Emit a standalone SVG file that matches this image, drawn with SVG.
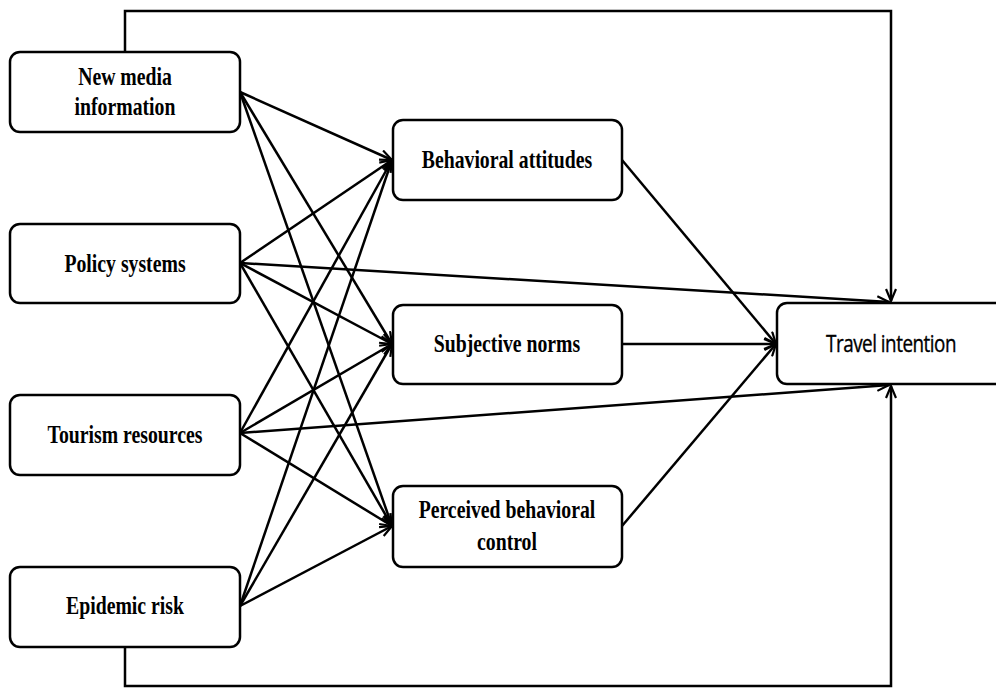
<svg xmlns="http://www.w3.org/2000/svg" width="996" height="688" viewBox="0 0 996 688">
<style>
.box{fill:#fff;stroke:#000;stroke-width:2.5}
.t{font-family:"Liberation Serif","Times New Roman",serif;font-weight:bold;font-size:25px;text-anchor:middle;fill:#000}
.ts{font-family:"Open Sans","Liberation Sans",sans-serif;font-size:23px;text-anchor:middle;fill:#000;stroke:#000;stroke-width:0.35;letter-spacing:-0.6px}
.e{fill:none;stroke:#000;stroke-width:2.5}
</style>
<defs>
<marker id="a" viewBox="0 0 14 12" refX="13" refY="6" markerWidth="14" markerHeight="12" markerUnits="userSpaceOnUse" orient="auto">
<path d="M1,1 L13,6 L1,11" fill="none" stroke="#000" stroke-width="2.2"/>
</marker>
</defs>
<g id="connectors">
<path class="e" d="M125,52 V11 H891 V301" marker-end="url(#a)"/>
<path class="e" d="M125,647 V686 H891 V386" marker-end="url(#a)"/>
<path class="e" d="M240,92 L392,160" marker-end="url(#a)"/>
<path class="e" d="M240,92 L392,344" marker-end="url(#a)"/>
<path class="e" d="M240,92 L392,526" marker-end="url(#a)"/>
<path class="e" d="M240,263 L392,160" marker-end="url(#a)"/>
<path class="e" d="M240,263 L392,344" marker-end="url(#a)"/>
<path class="e" d="M240,263 L392,526" marker-end="url(#a)"/>
<path class="e" d="M240,263 L889,302" marker-end="url(#a)"/>
<path class="e" d="M240,433 L392,160" marker-end="url(#a)"/>
<path class="e" d="M240,433 L392,344" marker-end="url(#a)"/>
<path class="e" d="M240,433 L392,526" marker-end="url(#a)"/>
<path class="e" d="M240,433 L889,385" marker-end="url(#a)"/>
<path class="e" d="M240,606 L392,160" marker-end="url(#a)"/>
<path class="e" d="M240,606 L392,344" marker-end="url(#a)"/>
<path class="e" d="M240,606 L392,526" marker-end="url(#a)"/>
<path class="e" d="M622,160 L776,344" marker-end="url(#a)"/>
<path class="e" d="M622,344 L776,344" marker-end="url(#a)"/>
<path class="e" d="M622,526 L776,344" marker-end="url(#a)"/>
</g>
<g id="new-media">
<rect class="box" x="10" y="52" width="230" height="80" rx="10"/>
<text class="t" transform="translate(125,0) scale(0.79,1)" x="0" y="85">New media</text>
<text class="t" transform="translate(125,0) scale(0.79,1)" x="0" y="115">information</text>
</g>
<g id="policy">
<rect class="box" x="10" y="224" width="230" height="79" rx="10"/>
<text class="t" transform="translate(125,0) scale(0.79,1)" x="0" y="272">Policy systems</text>
</g>
<g id="tourism">
<rect class="box" x="10" y="395" width="230" height="80" rx="10"/>
<text class="t" transform="translate(125,0) scale(0.79,1)" x="0" y="443">Tourism resources</text>
</g>
<g id="epidemic">
<rect class="box" x="10" y="567" width="230" height="80" rx="10"/>
<text class="t" transform="translate(125,0) scale(0.79,1)" x="0" y="614">Epidemic risk</text>
</g>
<g id="attitudes">
<rect class="box" x="393" y="120" width="229" height="80" rx="10"/>
<text class="t" transform="translate(507,0) scale(0.79,1)" x="0" y="168">Behavioral attitudes</text>
</g>
<g id="norms">
<rect class="box" x="393" y="305" width="229" height="79" rx="10"/>
<text class="t" transform="translate(507,0) scale(0.79,1)" x="0" y="352">Subjective norms</text>
</g>
<g id="control">
<rect class="box" x="393" y="486" width="229" height="81" rx="10"/>
<text class="t" transform="translate(507,0) scale(0.79,1)" x="0" y="518">Perceived behavioral</text>
<text class="t" transform="translate(507,0) scale(0.79,1)" x="0" y="550">control</text>
</g>
<g id="travel">
<rect class="box" x="777" y="303" width="240" height="81" rx="10"/>
<text class="ts" transform="translate(891,0) scale(0.82,1)" x="0" y="352">Travel intention</text>
</g>
</svg>
